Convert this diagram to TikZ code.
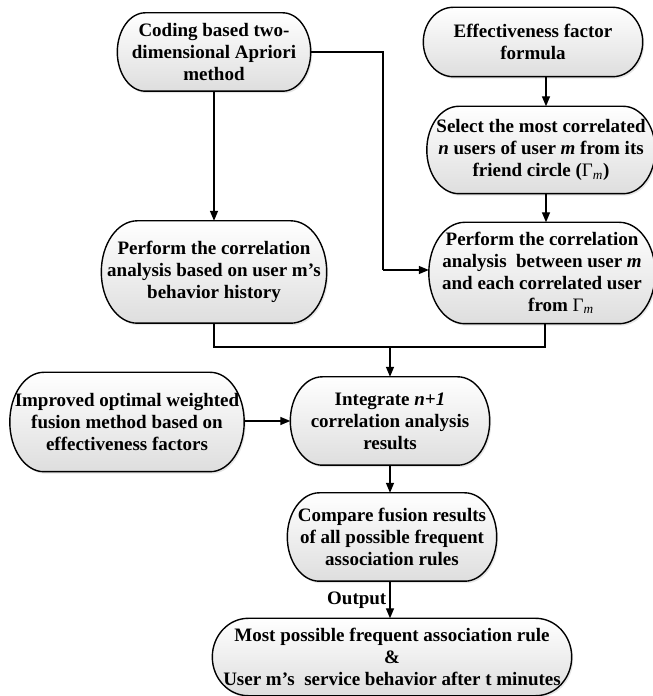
\documentclass[tikz,border=0pt]{standalone}
\usepackage{fontspec}
\setmainfont{Liberation Serif}
\usetikzlibrary{arrows.meta,shadows,calc,backgrounds}
\tikzset{
  x=1pt,y=1pt,
  box/.style={align=center,inner sep=0pt,
    font=\fontsize{19}{22}\selectfont\bfseries},
  capsulestyle/.style={draw=black,line width=1.4pt,
    top color=white,bottom color=black!13,
    drop shadow={opacity=0.2,shadow xshift=1.5pt,shadow yshift=-2pt}},
  conn/.style={line width=1.4pt},
  arr/.style={line width=1.4pt,-{Triangle[length=10pt,width=8pt]}},
}
\newcommand{\Gm}{{\mdseries Γ}\textsubscript{\mdseries\itshape m}}
\newcommand{\capsule}[2]{%
  \begin{scope}[on background layer]
  \path[capsulestyle] let \p1=(#1.north west), \p2=(#1.south east),
      \n1={(\y1-\y2)/2} in
    ({\x1+#2pt},\y1) -- ({\x2-#2pt},\y1)
    arc[start angle=90,end angle=-90,x radius=#2pt,y radius=\n1]
    -- ({\x1+#2pt},\y2)
    arc[start angle=270,end angle=90,x radius=#2pt,y radius=\n1]
    -- cycle;
  \end{scope}}
\begin{document}
\begin{tikzpicture}
\useasboundingbox (0,0) rectangle (653,696);
\node[box,minimum width=193pt,minimum height=78pt] (n1) at (214,644)
  {Coding based two-\\dimensional Apriori\\method};
\node[box,minimum width=219pt,minimum height=69pt] (n2) at (533,654)
  {Effectiveness factor\\formula};
\node[box,minimum width=228pt,minimum height=87pt] (n3) at (541,546)
  {Select the most correlated\\\textit{n} users of user \textit{m} from its\\friend circle (\Gm)};
\node[box,minimum width=225pt,minimum height=102pt] (n4) at (214,424)
  {Perform the correlation\\analysis based on user m’s\\behavior history};
\node[box,minimum width=226pt,minimum height=101pt] (n5) at (542,423)
  {Perform the correlation\\analysis \ between user \textit{m}\\and each correlated user\\\hspace*{2em}from \Gm};
\node[box,minimum width=199pt,minimum height=88pt] (n6) at (390,275)
  {Integrate \textit{n+1}\\correlation analysis\\results};
\node[box,minimum width=234pt,minimum height=99pt] (n7) at (127,274)
  {Improved optimal weighted\\fusion method based on\\effectiveness factors};
\node[box,minimum width=209pt,minimum height=88pt] (n8) at (392,159)
  {Compare fusion results\\of all possible frequent\\association rules};
\node[box,minimum width=359pt,minimum height=77pt] (n9) at (392,39)
  {Most possible frequent association rule\\\&\\User m’s \ service behavior after t minutes};
\capsule{n1}{28}
\capsule{n2}{30}
\capsule{n3}{32}
\capsule{n4}{36}
\capsule{n5}{36}
\capsule{n6}{32}
\capsule{n7}{34}
\capsule{n8}{32}
\capsule{n9}{36}
\coordinate (k) at (383,426);
\coordinate (m) at (390,349);
\draw[arr] (n1.south) -- (n4.north);
\draw[conn] (n1.east) -| (k);
\draw[arr] (k) -- (k -| n5.west);
\draw[arr] ([xshift=13pt]n2.south) -- ([xshift=5pt]n3.north);
\draw[arr] ([xshift=5pt]n3.south) -- ([xshift=4pt]n5.north);
\draw[conn] (n4.south) |- (m);
\draw[conn] ([xshift=3pt]n5.south) |- (m);
\draw[arr] (m) -- (n6.north);
\draw[arr] (n7.east |- n6.west) -- (n6.west);
\draw[arr] (n6.south) -- (n6.south |- n8.north);
\draw[arr] (n6.south |- n8.south) -- node[left,font=\fontsize{19}{22}\selectfont\bfseries,inner sep=3pt] (lo) {Output} (n6.south |- n9.north);
\end{tikzpicture}
\end{document}
